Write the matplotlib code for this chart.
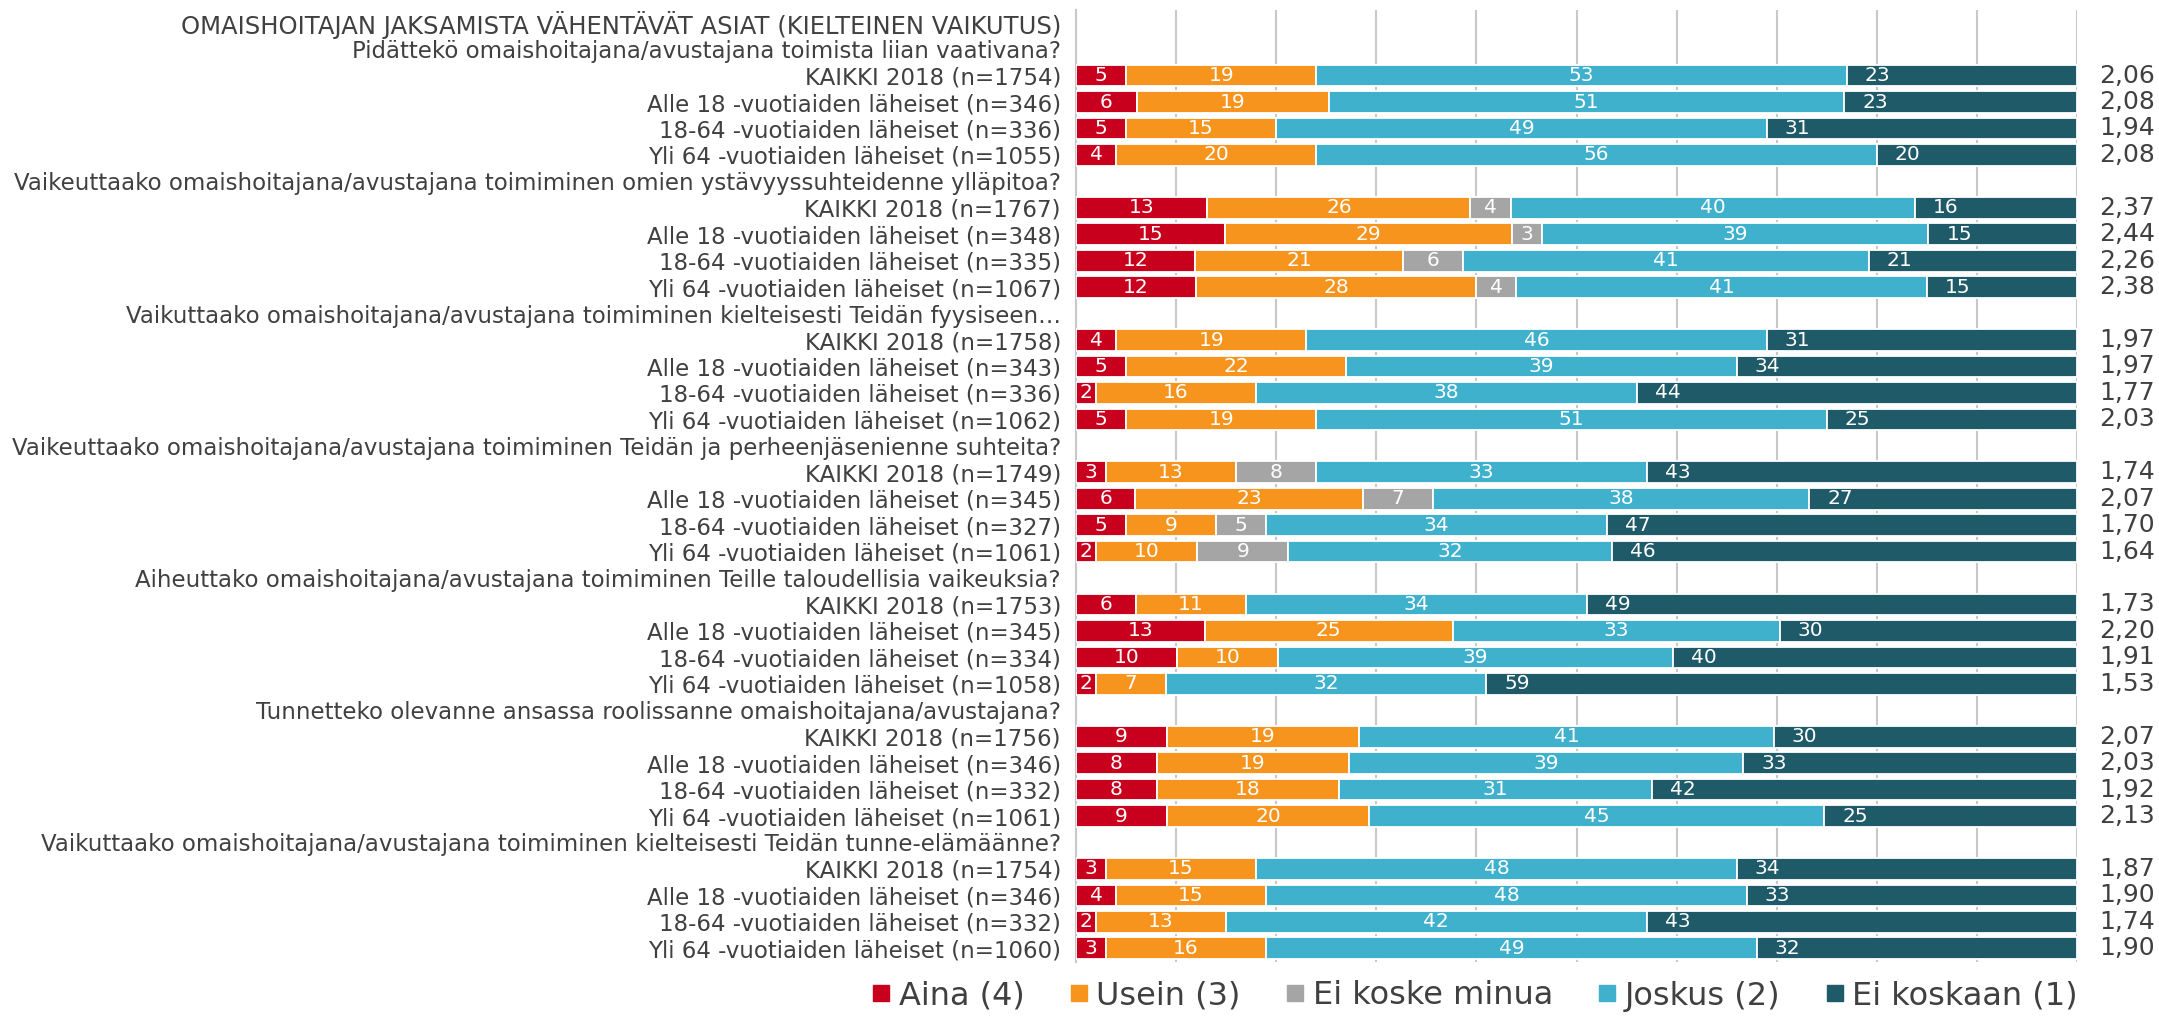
import matplotlib
matplotlib.use("Agg")
import matplotlib.pyplot as plt
from matplotlib.lines import Line2D
import numpy as np

plt.rcParams['font.family'] = ['DejaVu Sans']

series = ["Aina (4)", "Usein (3)", "Ei koske minua", "Joskus (2)", "Ei koskaan (1)"]
colors = ["#C8001E", "#F7941D", "#A5A5A5", "#40B1CD", "#1F5A68"]

main_title = "OMAISHOITAJAN JAKSAMISTA VÄHENTÄVÄT ASIAT (KIELTEINEN VAIKUTUS)"
questions = [
    "Pidättekö omaishoitajana/avustajana toimista liian vaativana?",
    "Vaikeuttaako omaishoitajana/avustajana toimiminen omien ystävyyssuhteidenne ylläpitoa?",
    "Vaikuttaako omaishoitajana/avustajana toimiminen kielteisesti Teidän fyysiseen…",
    "Vaikeuttaako omaishoitajana/avustajana toimiminen Teidän ja perheenjäsenienne suhteita?",
    "Aiheuttako omaishoitajana/avustajana toimiminen Teille taloudellisia vaikeuksia?",
    "Tunnetteko olevanne ansassa roolissanne omaishoitajana/avustajana?",
    "Vaikuttaako omaishoitajana/avustajana toimiminen kielteisesti Teidän tunne-elämäänne?",
]

group_names = ["KAIKKI 2018", "Alle 18 -vuotiaiden läheiset", "18-64 -vuotiaiden läheiset", "Yli 64 -vuotiaiden läheiset"]

n_values = [
    [1754, 346, 336, 1055],
    [1767, 348, 335, 1067],
    [1758, 343, 336, 1062],
    [1749, 345, 327, 1061],
    [1753, 345, 334, 1058],
    [1756, 346, 332, 1061],
    [1754, 346, 332, 1060],
]

# columns: Aina, Usein, Ei koske minua, Joskus, Ei koskaan
values = [
    [[5, 19, 0, 53, 23], [6, 19, 0, 51, 23], [5, 15, 0, 49, 31], [4, 20, 0, 56, 20]],
    [[13, 26, 4, 40, 16], [15, 29, 3, 39, 15], [12, 21, 6, 41, 21], [12, 28, 4, 41, 15]],
    [[4, 19, 0, 46, 31], [5, 22, 0, 39, 34], [2, 16, 0, 38, 44], [5, 19, 0, 51, 25]],
    [[3, 13, 8, 33, 43], [6, 23, 7, 38, 27], [5, 9, 5, 34, 47], [2, 10, 9, 32, 46]],
    [[6, 11, 0, 34, 49], [13, 25, 0, 33, 30], [10, 10, 0, 39, 40], [2, 7, 0, 32, 59]],
    [[9, 19, 0, 41, 30], [8, 19, 0, 39, 33], [8, 18, 0, 31, 42], [9, 20, 0, 45, 25]],
    [[3, 15, 0, 48, 34], [4, 15, 0, 48, 33], [2, 13, 0, 42, 43], [3, 16, 0, 49, 32]],
]

averages = [
    ["2,06", "2,08", "1,94", "2,08"],
    ["2,37", "2,44", "2,26", "2,38"],
    ["1,97", "1,97", "1,77", "2,03"],
    ["1,74", "2,07", "1,70", "1,64"],
    ["1,73", "2,20", "1,91", "1,53"],
    ["2,07", "2,03", "1,92", "2,13"],
    ["1,87", "1,90", "1,74", "1,90"],
]

W, H = 2159, 1016
fig = plt.figure(figsize=(W / 100, H / 100), dpi=100)
ax_left, ax_right = 1076 / W, 2077 / W
ax_top, ax_bot = 1 - 9.5 / H, 1 - 961.5 / H
ax = fig.add_axes([ax_left, ax_bot, ax_right - ax_left, ax_top - ax_bot])

text_col = "#404040"

labels = [main_title]
rows = []
for qi, q in enumerate(questions):
    labels.append(q)
    for gi, g in enumerate(group_names):
        labels.append(f"{g} (n={n_values[qi][gi]})")
        rows.append((len(labels) - 1, values[qi][gi], averages[qi][gi]))

nrows = len(labels)

for ypos, vals, avg in rows:
    vals = np.array(vals, dtype=float)
    widths = vals / vals.sum() * 100
    left = 0.0
    for si, (v, w) in enumerate(zip(vals, widths)):
        if v > 0:
            ax.barh(ypos, w, left=left, height=0.82, color=colors[si],
                    edgecolor="white", linewidth=1.3, zorder=3)
            if si == len(series) - 1:
                ax.text(left + 1.8, ypos, f"{int(v)}", ha="left", va="center",
                        color="white", fontsize=14.5, zorder=4)
            else:
                ax.text(left + w / 2, ypos, f"{int(v)}", ha="center", va="center",
                        color="white", fontsize=14.5, zorder=4)
        left += w
    ax.text(102.2, ypos, avg, ha="left", va="center", color=text_col,
            fontsize=18, clip_on=False)

ax.set_xlim(0, 100)
ax.set_ylim(nrows - 0.5, -0.5)
ax.set_yticks(range(nrows))
ax.set_yticklabels(labels, fontsize=16.5, color=text_col)
ax.get_yticklabels()[0].set_fontsize(17.5)
ax.tick_params(axis="y", length=0, pad=10.8)
ax.set_xticks(np.arange(0, 101, 10))
ax.tick_params(axis="x", length=0, labelbottom=False)
ax.grid(axis="x", color="#C8C8C8", linewidth=1.5, zorder=0)
ax.set_axisbelow(True)
for s in ["top", "right", "bottom"]:
    ax.spines[s].set_visible(False)
ax.spines["left"].set_color("#C8C8C8")
ax.spines["left"].set_linewidth(1.5)

handles = [Line2D([0], [0], marker="s", linestyle="none", markersize=11.5,
                  markerfacecolor=c, markeredgecolor=c) for c in colors]
fig.legend(handles, series, loc="center", bbox_to_anchor=(1474 / W, 1 - 996 / H),
           ncol=5, frameon=False, fontsize=23, handlelength=0.7, handletextpad=0.2,
           columnspacing=1.35, labelcolor=text_col)

fig.savefig("out.png", dpi=100)
